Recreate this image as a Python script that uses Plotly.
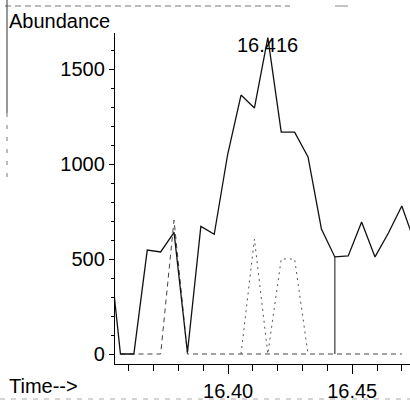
import plotly.graph_objects as go

# Retention times (min) of the scans
times = [16.3512, 16.3566, 16.3620, 16.3674, 16.3728, 16.3782, 16.3836, 16.3890,
         16.3944, 16.3998, 16.4052, 16.4106, 16.4160, 16.4214, 16.4268, 16.4322,
         16.4376, 16.4430, 16.4484, 16.4538, 16.4592, 16.4646, 16.4700, 16.4754]

# Total abundance (solid trace)
abundance = [660, 0, 0, 547, 537, 640, 8, 672, 630, 1050, 1363, 1295, 1665,
             1168, 1168, 1037, 658, 511, 516, 695, 511, 637, 779, 580]

# Qualifier ion traces (dashed / dotted)
ion_a_times = times[1:23]
ion_a = [0, 0, 0, 0, 705, 0, 0, 0, 0, 0, 0, 0, 0, 0, 0, 0, 0, 0, 0, 0, 0, 0]
ion_b_times = times[10:16]
ion_b = [0, 605, 0, 500, 500, 0]

peak_label = "16.416"
peak_idx = 12
end_idx = 17

x_ticks = [16.40, 16.45]
x_ticktext = ["16.40", "16.45"]
y_ticks = [0, 500, 1000, 1500]
y_ticktext = ["0", "500", "1000", "1500"]

FONT = "Liberation Sans, Arial, sans-serif"

fig = go.Figure()
fig.add_trace(go.Scatter(x=ion_a_times, y=ion_a, mode="lines",
                         line=dict(color="#444444", width=1, dash="5px,4px"),
                         hoverinfo="skip", showlegend=False))
fig.add_trace(go.Scatter(x=ion_b_times, y=ion_b, mode="lines",
                         line=dict(color="#555555", width=1, dash="2px,4px"),
                         hoverinfo="skip", showlegend=False))
fig.add_trace(go.Scatter(x=[times[end_idx], times[end_idx]], y=[0, abundance[end_idx]],
                         mode="lines", line=dict(color="#555555", width=1.4),
                         hoverinfo="skip", showlegend=False))
fig.add_trace(go.Scatter(x=times, y=abundance, mode="lines",
                         line=dict(color="#111111", width=1.3),
                         showlegend=False))

fig.add_annotation(x=times[peak_idx], y=abundance[peak_idx], text=peak_label,
                   showarrow=False, xanchor="center", yanchor="middle", yshift=-7,
                   font=dict(family=FONT, size=20, color="#000000"))

# axis titles placed as in the original print
def px_x(p):
    return (p - 115) / 295.0

def px_y(p):
    return (364 - p) / 331.0

fig.add_annotation(xref="paper", yref="paper", x=px_x(7), y=px_y(21), text="Abundance",
                   showarrow=False, xanchor="left", yanchor="middle",
                   font=dict(family=FONT, size=20, color="#000000"))
fig.add_annotation(xref="paper", yref="paper", x=px_x(7), y=px_y(386), text="Time-->",
                   showarrow=False, xanchor="left", yanchor="middle",
                   font=dict(family=FONT, size=20, color="#000000"))

# scan border artefacts
fig.add_shape(type="line", xref="paper", yref="paper", x0=px_x(5), x1=px_x(290),
              y0=px_y(6), y1=px_y(6), line=dict(color="#777777", width=1, dash="6px,4px"))
fig.add_shape(type="line", xref="paper", yref="paper", x0=px_x(335), x1=px_x(348),
              y0=px_y(6), y1=px_y(6), line=dict(color="#888888", width=1))
fig.add_shape(type="line", xref="paper", yref="paper", x0=px_x(7), x1=px_x(7),
              y0=px_y(0), y1=px_y(113), line=dict(color="#333333", width=1))
fig.add_shape(type="line", xref="paper", yref="paper", x0=px_x(7), x1=px_x(7),
              y0=px_y(113), y1=px_y(180), line=dict(color="#777777", width=1, dash="4px,8px"))
fig.add_shape(type="line", xref="paper", yref="paper", x0=px_x(0), x1=px_x(410),
              y0=px_y(399), y1=px_y(399), line=dict(color="#aaaaaa", width=1, dash="5px,6px"))

fig.update_layout(
    width=410, height=401,
    margin=dict(l=115, r=0, t=33, b=37),
    paper_bgcolor="white", plot_bgcolor="white",
    font=dict(family=FONT, size=20, color="#000000"),
    xaxis=dict(range=[16.3544, 16.4733], tickvals=x_ticks, ticktext=x_ticktext,
               showgrid=False, zeroline=False, showline=True, linecolor="#000000",
               linewidth=1.3, ticks="outside", ticklen=9, tickwidth=1.2, tickcolor="#000000",
               minor=dict(dtick=0.01, tick0=16.36, ticks="outside", ticklen=6,
                          tickwidth=1, tickcolor="#000000", showgrid=False),
               tickfont=dict(family=FONT, size=20)),
    yaxis=dict(range=[-52.6, 1689.5], tickvals=y_ticks, ticktext=y_ticktext,
               showgrid=False, zeroline=False, showline=True, linecolor="#000000",
               linewidth=1.3, ticks="outside", ticklen=5, tickwidth=1, tickcolor="#000000",
               minor=dict(dtick=100, tick0=0, ticks="outside", ticklen=3,
                          tickwidth=1, tickcolor="#000000", showgrid=False),
               tickfont=dict(family=FONT, size=20)),
)

fig.write_html("out.html", config={"displayModeBar": False},
               post_script="document.body.style.margin='0px';document.body.style.overflow='hidden';")
